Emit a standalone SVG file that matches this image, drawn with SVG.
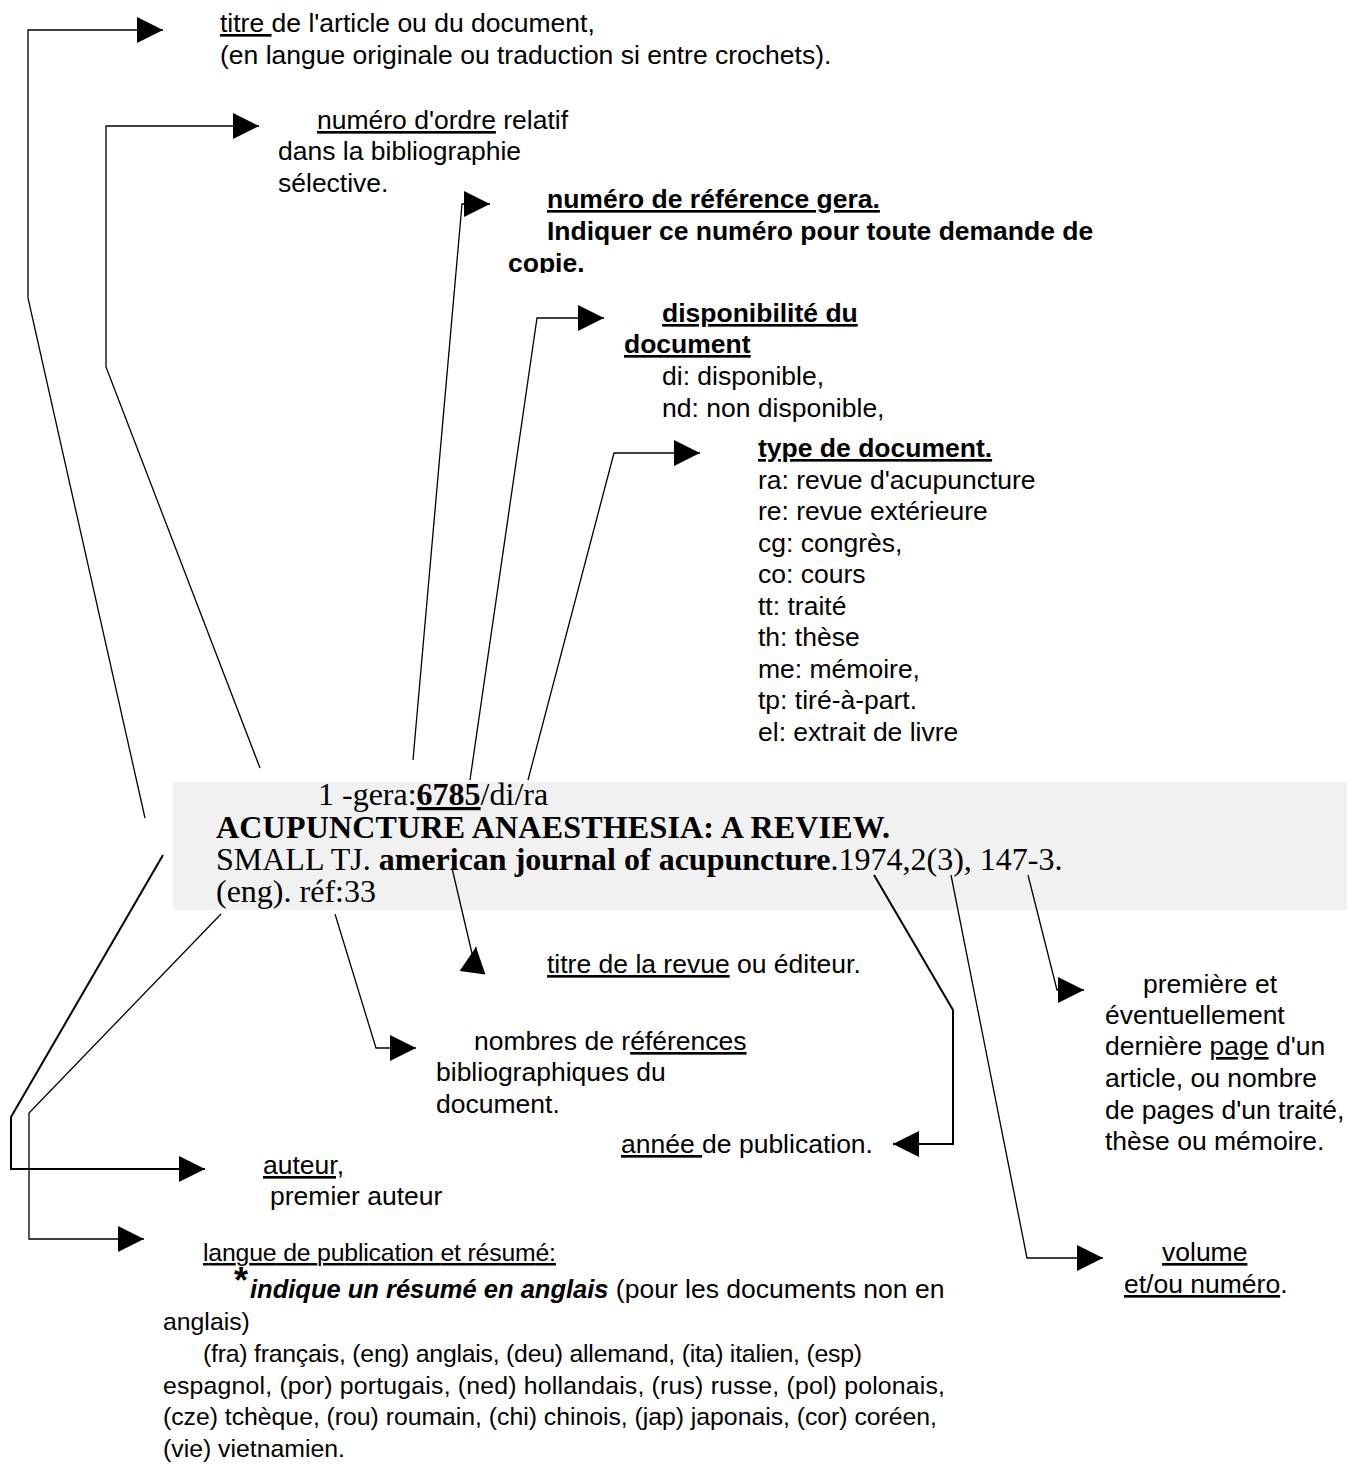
<svg xmlns="http://www.w3.org/2000/svg" width="1347" height="1465" viewBox="0 0 1347 1465">
<style>
.t{font-family:"Liberation Sans",Arial,sans-serif;font-size:26.5px;fill:#000}
.p{font-family:"Liberation Sans",Arial,sans-serif;font-size:24.8px;fill:#000}
.s{font-family:"Liberation Serif","Times New Roman",serif;font-size:32px;fill:#000}
.b{font-weight:bold}
.i{font-style:italic}
.u{text-decoration:underline}
.c{fill:none;stroke:#000;stroke-width:1.3;marker-end:url(#ah)}
.c2{stroke-width:2}
</style>
<defs>
<marker id="ah" markerUnits="userSpaceOnUse" markerWidth="27" markerHeight="27" refX="26" refY="13" orient="auto" overflow="visible">
<path d="M0,0 L26,13 L0,26 Z" fill="#000"/>
</marker>
<clipPath id="clipGera"><rect x="400" y="170" width="800" height="103"/></clipPath>
</defs>
<rect width="1347" height="1465" fill="#fff"/>
<g id="reference">
<rect x="173" y="782" width="1174" height="128" fill="#f1f1f1"/>
<text class="s" x="318" y="805">1 -gera:<tspan class="b u">6785</tspan>/di/ra</text>
<text class="s b" x="216" y="838" textLength="674" lengthAdjust="spacing">ACUPUNCTURE ANAESTHESIA: A REVIEW.</text>
<text class="s" x="216" y="870">SMALL TJ. <tspan class="b">american journal of acupuncture</tspan>.1974,2(3), 147-3.</text>
<text class="s" x="216" y="902">(eng). réf:33</text>
</g>
<g id="connectors">
<path class="c" d="M145,818 L28,298 L28,30 L163,30"/>
<path class="c" d="M260,768 L106,367 L106,126 L259,126"/>
<path class="c" d="M413,760 L462,204 L490,204"/>
<path class="c" d="M470,780 L537,318 L604,318"/>
<path class="c" d="M528,780 L614,453 L700,453"/>
<path class="c" d="M452,868 L474,962 L476,947"/>
<path class="c" d="M335,914 L376,1048 L416,1048"/>
<path class="c c2" d="M163,855 L11,1117 L11,1169 L205,1169"/>
<path class="c" d="M221,914 L29,1113 L29,1239 L144,1239"/>
<path class="c c2" d="M874,875 L953,1010 L953,1144 L893,1144"/>
<path class="c" d="M951,875 L1027,1258 L1103,1258"/>
<path class="c" d="M1028,875 L1057,990 L1084,990"/>
</g>
<g id="titre">
<text class="t" x="220" y="32"><tspan class="u">titre </tspan>de l'article ou du document,</text>
<text class="t" x="220" y="64">(en langue originale ou traduction si entre crochets).</text>
</g>
<g id="ordre">
<text class="t" x="317" y="129"><tspan class="u">numéro d'ordre</tspan> relatif</text>
<text class="t" x="278" y="160">dans la bibliographie</text>
<text class="t" x="278" y="192">sélective.</text>
</g>
<g id="gera" clip-path="url(#clipGera)">
<text class="t b u" x="547" y="208">numéro de référence gera.</text>
<text class="t b" x="547" y="240">Indiquer ce numéro pour toute demande de</text>
<text class="t b" x="508" y="272">copie.</text>
</g>
<g id="disponibilite">
<text class="t b u" x="662" y="322">disponibilité du</text>
<text class="t b u" x="624" y="353">document</text>
<text class="t" x="662" y="385">di: disponible,</text>
<text class="t" x="662" y="417">nd: non disponible,</text>
</g>
<g id="type">
<text class="t b u" x="758" y="457">type de document.</text>
<text class="t" x="758" y="489">ra: revue d'acupuncture</text>
<text class="t" x="758" y="520">re: revue extérieure</text>
<text class="t" x="758" y="552">cg: congrès,</text>
<text class="t" x="758" y="583">co: cours</text>
<text class="t" x="758" y="615">tt: traité</text>
<text class="t" x="758" y="646">th: thèse</text>
<text class="t" x="758" y="678">me: mémoire,</text>
<text class="t" x="758" y="709">tp: tiré-à-part.</text>
<text class="t" x="758" y="741">el: extrait de livre</text>
</g>
<g id="revue">
<text class="t" x="547" y="973"><tspan class="u">titre de la revue</tspan> ou éditeur.</text>
</g>
<g id="nombres">
<text class="t" x="474" y="1050">nombres de r<tspan class="u">éférences</tspan></text>
<text class="t" x="436" y="1081">bibliographiques du</text>
<text class="t" x="436" y="1113">document.</text>
</g>
<g id="annee">
<text class="t" x="621" y="1153"><tspan class="u">année </tspan>de publication.</text>
</g>
<g id="auteur">
<text class="t u" x="263" y="1174">auteur,</text>
<text class="t" x="270" y="1205">premier auteur</text>
</g>
<g id="langue">
<text class="p u" x="203" y="1261" textLength="353" lengthAdjust="spacing">langue de publication et résumé:</text>
<text class="p b" x="234" y="1293" style="font-size:36px">*</text>
<text class="p" x="250" y="1298"><tspan class="b i" font-size="25.5px">indique un résumé en anglais</tspan><tspan font-size="26.5px"> (pour les documents non en</tspan></text>
<text class="p" x="163" y="1330">anglais)</text>
<text class="p" x="203" y="1362" textLength="659" lengthAdjust="spacing">(fra) français, (eng) anglais, (deu) allemand, (ita) italien, (esp)</text>
<text class="p" x="163" y="1394" textLength="782" lengthAdjust="spacing">espagnol, (por) portugais, (ned) hollandais, (rus) russe, (pol) polonais,</text>
<text class="p" x="163" y="1425" textLength="774" lengthAdjust="spacing">(cze) tchèque, (rou) roumain, (chi) chinois, (jap) japonais, (cor) coréen,</text>
<text class="p" x="163" y="1457">(vie) vietnamien.</text>
</g>
<g id="premiere">
<text class="t" x="1143" y="993">première et</text>
<text class="t" x="1105" y="1024">éventuellement</text>
<text class="t" x="1105" y="1055">dernière <tspan class="u">page</tspan> d'un</text>
<text class="t" x="1105" y="1087">article, ou nombre</text>
<text class="t" x="1105" y="1119">de pages d'un traité,</text>
<text class="t" x="1105" y="1150">thèse ou mémoire.</text>
</g>
<g id="volume">
<text class="t u" x="1162" y="1261">volume</text>
<text class="t" x="1124" y="1293"><tspan class="u">et/ou numéro</tspan>.</text>
</g>
</svg>
